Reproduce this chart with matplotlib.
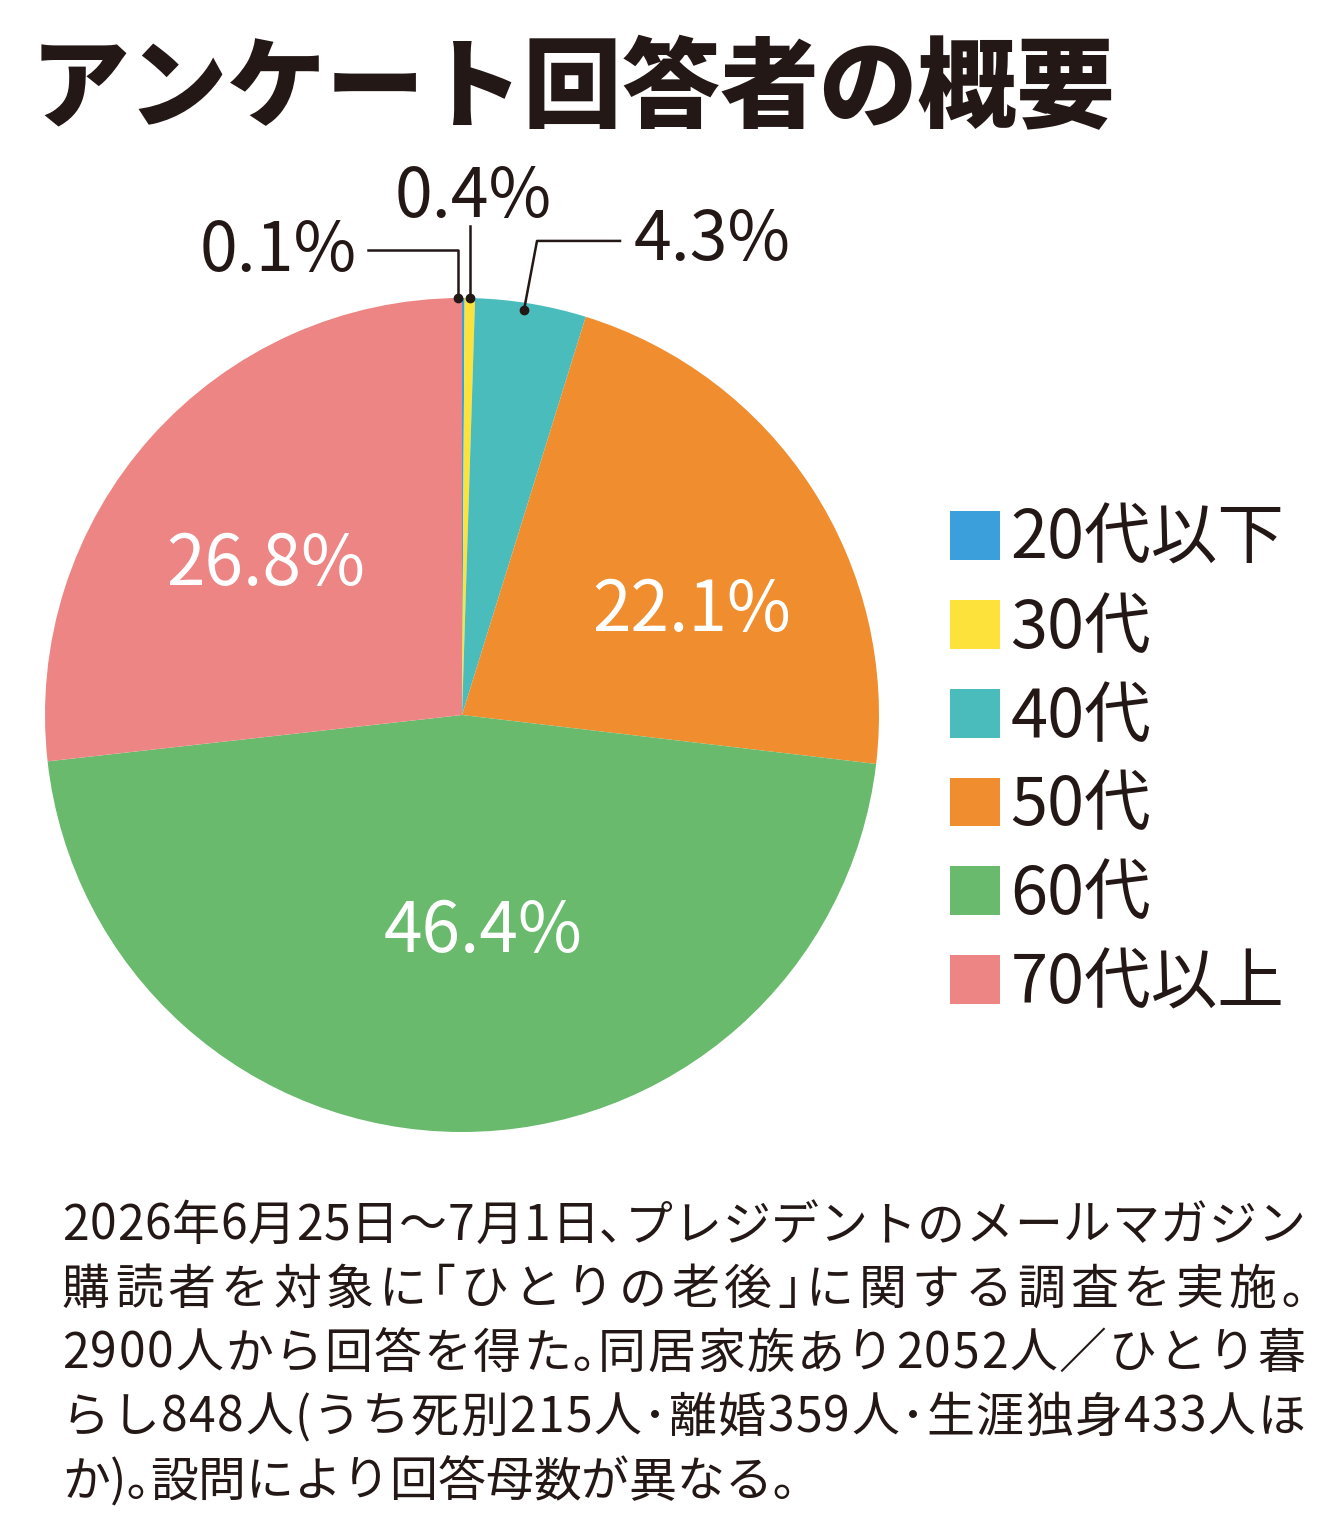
import matplotlib
matplotlib.use("Agg")
import matplotlib.pyplot as plt
import numpy as np

plt.rcParams['font.family'] = ['Noto Sans CJK JP', 'DejaVu Sans']

# データ
categories = ['20代以下', '30代', '40代', '50代', '60代', '70代以上']
shares = [0.1, 0.4, 4.3, 22.1, 46.4, 26.8]
colors = ['#3a9fdb', '#fde23c', '#4bbcbc', '#f08d2f', '#6aba6e', '#ee8585']
title = 'アンケート回答者の概要'
note_lines = [
    '2026年6月25日～7月1日、プレジデントのメールマガジン',
    '購読者を対象に「ひとりの老後」に関する調査を実施。',
    '2900人から回答を得た。同居家族あり2052人／ひとり暮',
    'らし848人（うち死別215人・離婚359人・生涯独身433人ほ',
    'か）。設問により回答母数が異なる。',
]

ink = '#231815'
W, H = 1340, 1537
fig = plt.figure(figsize=(W / 100, H / 100), dpi=100)

# パイの軸（ピクセルで配置）
px_l, px_r, px_t, px_b = 45, 879, 298, 1132
ax = fig.add_axes([px_l / W, 1 - px_b / H, (px_r - px_l) / W, (px_b - px_t) / H])
wedges, _ = ax.pie(shares, colors=colors, startangle=90, counterclock=False,
                   radius=1.0, wedgeprops=dict(linewidth=0))
ax.set_xlim(-1, 1)
ax.set_ylim(-1, 1)
ax.set_aspect('equal')
ax.axis('off')


def mid_point(w, r):
    ang = np.deg2rad((w.theta1 + w.theta2) / 2)
    return r * np.cos(ang), r * np.sin(ang)


# 内側ラベル
inner = {3: (0.55, 0.25), 4: (0.05, -0.52), 5: (-0.47, 0.36)}
for i, (x, y) in inner.items():
    ax.text(x, y, f'{shares[i]}%', color='white', fontsize=50,
            ha='center', va='center')

# 外側ラベル（引き出し線つき）
k = 1 / 417.0
x0, y0 = mid_point(wedges[0], 1.0)
x0 -= 0.012
pts = np.array([[x0, y0], [x0, y0 + 48 * k], [x0 - 90 * k, y0 + 48 * k]])
ax.plot(pts[:, 0], pts[:, 1], color=ink, lw=1.8, clip_on=False)
ax.plot(x0, y0, 'o', color=ink, ms=6, clip_on=False)
ax.text(pts[-1, 0] - 12 * k, pts[-1, 1] - 2 * k, f'{shares[0]}%', fontsize=49,
        color=ink, ha='right', va='center')

x1, y1 = mid_point(wedges[1], 1.0)
pts = np.array([[x1, y1], [x1, y1 + 72 * k]])
ax.plot(pts[:, 0], pts[:, 1], color=ink, lw=1.8, clip_on=False)
ax.plot(x1, y1, 'o', color=ink, ms=6, clip_on=False)
ax.text(x1 + 3 * k, y1 + 100 * k, f'{shares[1]}%', fontsize=49,
        color=ink, ha='center', va='center')

x2, y2 = mid_point(wedges[2], 0.985)
x2 -= 6 * k
pts = np.array([[x2, y2], [x2 + 13 * k, y2 + 69 * k], [x2 + 96 * k, y2 + 69 * k]])
ax.plot(pts[:, 0], pts[:, 1], color=ink, lw=1.8, clip_on=False)
ax.plot(x2, y2, 'o', color=ink, ms=6, clip_on=False)
ax.text(pts[-1, 0] + 14 * k, pts[-1, 1], f'{shares[2]}%', fontsize=49,
        color=ink, ha='left', va='center')

# 凡例
leg = fig.legend(wedges, categories, loc='upper left',
                 bbox_to_anchor=(917 / W, 1 - 473 / H), frameon=False,
                 fontsize=48, handlelength=0.75, handleheight=0.75,
                 handletextpad=0.15, labelspacing=0.32, borderpad=0,
                 labelcolor=ink)

# タイトル
fig.text(31 / W, 1 - 91 / H, title, fontsize=71, fontweight='black',
         color=ink, ha='left', va='center')

# 注記（両端揃え、約物は半角の字形で組む）
fs = 34.5
renderer = fig.canvas.get_renderer()
half_forms = {'、': '､', '。': '｡', '「': '｢', '」': '｣', '・': '･',
              '（': '(', '）': ')'}
width_cache = {}


def char_w(ch):
    if ch not in width_cache:
        probe = fig.text(0, 0, ch * 10, fontsize=fs)
        width_cache[ch] = probe.get_window_extent(renderer).width / 10
        probe.remove()
    return width_cache[ch]


left_px, right_px = 62, 1305
for j, line in enumerate(note_lines):
    y = 1 - (1240 + j * 64) / H
    glyphs = [half_forms.get(c, c) for c in line]
    widths = [char_w(c) for c in glyphs]
    gap = 0.0
    if j < len(note_lines) - 1:
        gap = (right_px - left_px - sum(widths)) / (len(glyphs) - 1)
    x = left_px
    for c, w in zip(glyphs, widths):
        fig.text(x / W, y, c, fontsize=fs, color=ink,
                 ha='left', va='baseline')
        x += w + gap

fig.savefig('out.png', dpi=100, facecolor='white')
